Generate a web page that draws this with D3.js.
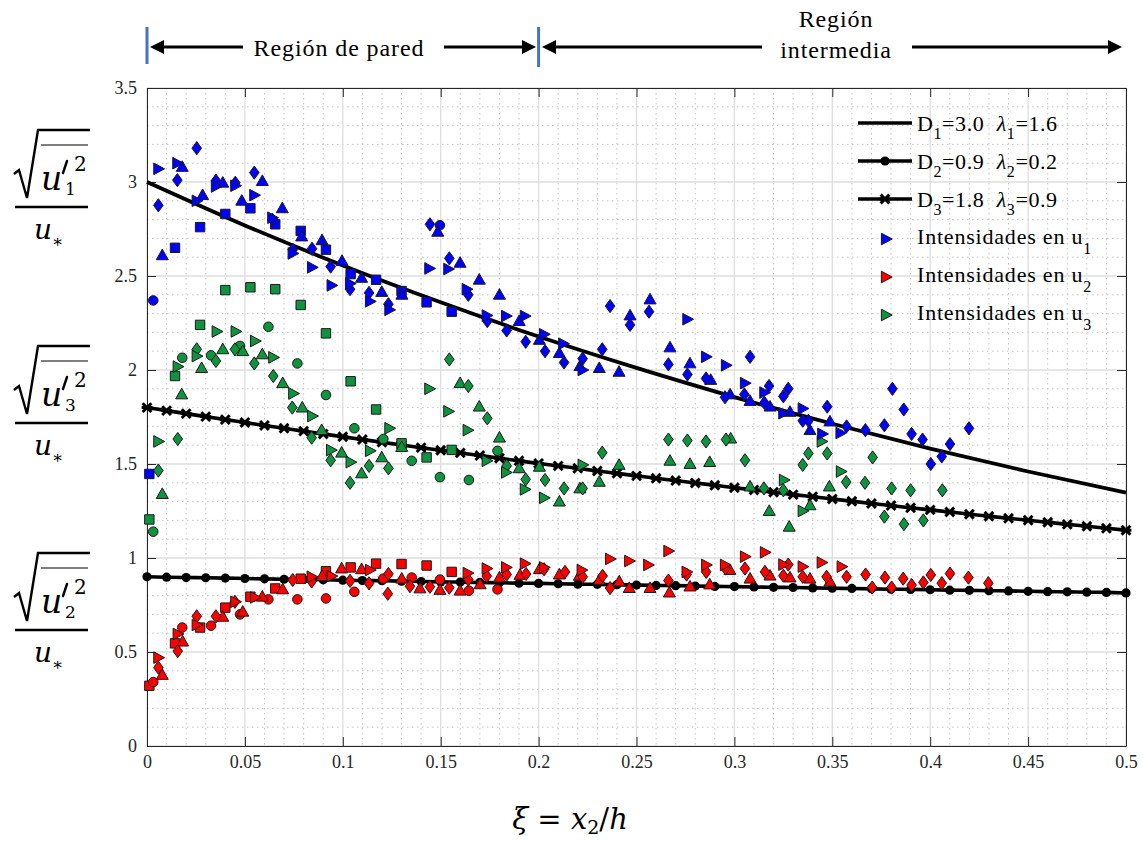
<!DOCTYPE html>
<html><head><meta charset="utf-8">
<script src="https://cdn.jsdelivr.net/npm/d3@7"></script>
<style>body{margin:0;background:#fff}svg{display:block}</style>
</head><body><svg id="c" width="1143" height="841"></svg>
<script>
// ---------------- DATA ----------------
const xTicks = [0,0.05,0.1,0.15,0.2,0.25,0.3,0.35,0.4,0.45,0.5];
const xTickLabels = ["0","0.05","0.1","0.15","0.2","0.25","0.3","0.35","0.4","0.45","0.5"];
const yTicks = [0,0.5,1,1.5,2,2.5,3,3.5];
const yTickLabels = ["0","0.5","1","1.5","2","2.5","3","3.5"];

// fitted curves
const fitX1 = [0,0.05,0.1,0.15,0.2,0.25,0.3,0.35,0.4,0.45,0.5];
const fitD1 = [3.000,2.769,2.556,2.360,2.178,2.011,1.856,1.714,1.582,1.460,1.348];
const fitX = [0,0.01,0.02,0.03,0.04,0.05,0.06,0.07,0.08,0.09,0.1,0.11,0.12,0.13,0.14,0.15,0.16,0.17,0.18,0.19,0.2,0.21,0.22,0.23,0.24,0.25,0.26,0.27,0.28,0.29,0.3,0.31,0.32,0.33,0.34,0.35,0.36,0.37,0.38,0.39,0.4,0.41,0.42,0.43,0.44,0.45,0.46,0.47,0.48,0.49,0.5];
const fitD2 = [0.900,0.898,0.896,0.895,0.893,0.891,0.889,0.887,0.886,0.884,0.882,0.880,0.879,0.877,0.875,0.873,0.872,0.870,0.868,0.866,0.865,0.863,0.861,0.860,0.858,0.856,0.854,0.853,0.851,0.849,0.848,0.846,0.844,0.843,0.841,0.839,0.838,0.836,0.834,0.833,0.831,0.829,0.828,0.826,0.825,0.823,0.821,0.820,0.818,0.817,0.814];
const fitD3 = [1.800,1.784,1.768,1.752,1.736,1.721,1.705,1.690,1.675,1.660,1.645,1.630,1.616,1.601,1.587,1.573,1.559,1.545,1.531,1.517,1.503,1.490,1.477,1.463,1.450,1.437,1.424,1.412,1.399,1.387,1.374,1.362,1.350,1.337,1.326,1.314,1.302,1.290,1.279,1.267,1.256,1.245,1.233,1.222,1.211,1.201,1.190,1.179,1.169,1.158,1.148];

// squares
const u1_sq = [[0.0012,1.447],[0.0143,2.65],[0.0271,2.76],[0.040,2.83],[0.0528,2.86],[0.0655,2.775],[0.0785,2.74],[0.0914,2.64],[0.104,2.51],[0.117,2.48],[0.130,2.42],[0.1428,2.36],[0.1556,2.31]];
const u2_sq = [[0.0012,0.32],[0.0143,0.546],[0.0271,0.63],[0.040,0.736],[0.0528,0.794],[0.0655,0.838],[0.0785,0.89],[0.0914,0.93],[0.104,0.95],[0.117,0.97],[0.130,0.968],[0.1428,0.96],[0.1556,0.926]];
const u3_sq = [[0.0012,1.205],[0.0143,1.968],[0.0271,2.24],[0.040,2.425],[0.0528,2.44],[0.0655,2.43],[0.0785,2.346],[0.0914,2.195],[0.104,1.94],[0.117,1.79],[0.130,1.61],[0.1428,1.535],[0.1556,1.575]];
// circles
const u1_ci = [[0.0032,2.37],[0.1496,2.77]];
const u2_ci = [[0.0032,0.34],[0.018,0.63],[0.0327,0.64],[0.0475,0.70],[0.062,0.78],[0.0768,0.78],[0.0914,0.785],[0.1059,0.82],[0.1207,0.89],[0.1352,0.896],[0.1496,0.885],[0.1644,0.826],[0.179,0.833]];
const u3_ci = [[0.0032,1.14],[0.018,2.065],[0.0327,2.078],[0.0475,2.128],[0.062,2.23],[0.0768,2.035],[0.0914,1.867],[0.1059,1.69],[0.1207,1.633],[0.1352,1.517],[0.1496,1.43],[0.1644,1.415],[0.179,1.57]];
// up triangles
const u1_tu = [[0.0078,2.61],[0.018,3.08],[0.0284,2.93],[0.0387,2.996],[0.0484,2.90],[0.0589,3.005],[0.0691,2.86],[0.079,2.71],[0.0894,2.69],[0.0996,2.58],[0.1096,2.49],[0.1199,2.415],[0.1302,2.40],[0.1485,2.735],[0.1599,2.57],[0.1697,2.48],[0.18,2.40],[0.1901,2.26],[0.2004,2.16],[0.2106,2.09],[0.2211,2.02],[0.231,2.01],[0.2411,1.99],[0.2467,2.29],[0.2569,2.375],[0.2671,2.12],[0.2773,2.035],[0.2879,1.947],[0.2978,1.87],[0.308,1.835],[0.3182,1.805],[0.3284,1.777],[0.3386,1.68],[0.3488,1.726]];
const u2_tu = [[0.0078,0.378],[0.0182,0.555],[0.0387,0.687],[0.0489,0.714],[0.0589,0.794],[0.0693,0.833],[0.0894,0.904],[0.0994,0.944],[0.1096,0.94],[0.1301,0.89],[0.1394,0.838],[0.1496,0.83],[0.1599,0.826],[0.1701,0.86],[0.18,0.896],[0.1905,0.91],[0.2004,0.94],[0.2106,0.912],[0.2208,0.905],[0.231,0.883],[0.2412,0.875],[0.2463,0.84],[0.2569,0.84],[0.2668,0.816],[0.2773,0.848],[0.2874,0.859],[0.2977,0.936],[0.308,0.89],[0.3182,0.906],[0.3284,0.896],[0.3386,0.89],[0.3488,0.874]];
const u3_tu = [[0.0078,1.34],[0.0177,1.87],[0.0279,2.01],[0.0387,2.11],[0.0489,2.10],[0.0589,2.083],[0.0693,1.93],[0.0793,1.80],[0.0892,1.68],[0.0994,1.56],[0.1096,1.45],[0.1199,1.535],[0.1301,1.59],[0.1599,1.93],[0.1697,1.805],[0.18,1.64],[0.1901,1.477],[0.2004,1.485],[0.2106,1.30],[0.2211,1.37],[0.231,1.405],[0.2411,1.495],[0.2671,1.517],[0.2773,1.50],[0.2874,1.51],[0.2981,1.635],[0.308,1.38],[0.3178,1.25],[0.328,1.166],[0.3386,1.28],[0.3485,1.38]];
// diamonds
const u1_di = [[0.0058,2.876],[0.0155,3.01],[0.0254,3.18],[0.0352,3.007],[0.0451,2.996],[0.0548,3.05],[0.064,2.80],[0.0744,2.64],[0.0843,2.645],[0.0938,2.55],[0.1037,2.43],[0.1134,2.41],[0.1233,2.35],[0.1445,2.775],[0.1544,2.594],[0.1641,2.40],[0.1738,2.26],[0.1837,2.21],[0.1934,2.15],[0.2033,2.10],[0.213,2.04],[0.2225,2.06],[0.2325,2.11],[0.2365,2.34],[0.2467,2.24],[0.2564,2.31],[0.2663,2.03],[0.276,1.976],[0.2855,1.955],[0.2952,1.855],[0.3051,1.87],[0.308,2.07],[0.3153,1.826],[0.3177,1.915],[0.325,1.86],[0.3275,1.90],[0.3349,1.73],[0.3378,1.73],[0.3474,1.805],[0.3573,1.70],[0.3669,1.68],[0.3766,1.706],[0.3807,1.90],[0.3865,1.79],[0.3905,1.66],[0.3961,1.63],[0.4003,1.50],[0.4059,1.54],[0.4101,1.606],[0.4198,1.69]];
const u2_di = [[0.0058,0.417],[0.0157,0.505],[0.0254,0.69],[0.0352,0.69],[0.0449,0.767],[0.0744,0.883],[0.0841,0.875],[0.1037,0.878],[0.1134,0.865],[0.1233,0.915],[0.123,0.81],[0.1343,0.85],[0.1445,0.847],[0.1544,0.842],[0.1641,0.885],[0.1735,0.904],[0.1837,0.912],[0.1936,0.915],[0.2028,0.94],[0.2135,0.926],[0.2225,0.90],[0.2327,0.905],[0.2365,0.84],[0.2663,0.88],[0.2756,0.912],[0.2856,0.926],[0.2955,0.944],[0.3054,0.944],[0.3156,0.926],[0.325,0.906],[0.3275,0.965],[0.3349,0.90],[0.3471,0.90],[0.3573,0.90],[0.367,0.912],[0.3704,0.843],[0.3769,0.896],[0.3803,0.843],[0.3862,0.89],[0.3905,0.856],[0.3965,0.87],[0.4003,0.91],[0.4059,0.866],[0.4101,0.917],[0.4195,0.896],[0.4297,0.866]];
const u3_di = [[0.0058,1.465],[0.0157,1.633],[0.0254,2.11],[0.0352,2.048],[0.0449,2.11],[0.0548,2.035],[0.0645,1.968],[0.0742,1.80],[0.0841,1.64],[0.0938,1.52],[0.1037,1.40],[0.1134,1.49],[0.1233,1.477],[0.1544,2.056],[0.1641,1.915],[0.1738,1.743],[0.1837,1.49],[0.1934,1.418],[0.2033,1.415],[0.213,1.37],[0.2225,1.37],[0.2325,1.56],[0.2663,1.63],[0.276,1.625],[0.2855,1.62],[0.2957,1.63],[0.3054,1.52],[0.3151,1.37],[0.325,1.36],[0.3349,1.495],[0.3378,1.556],[0.3474,1.556],[0.3571,1.404],[0.3667,1.40],[0.3706,1.535],[0.3766,1.22],[0.3803,1.37],[0.3866,1.18],[0.39,1.36],[0.3965,1.20],[0.4062,1.36]];
// right-pointing triangles
const u1_tr = [[0.0058,3.07],[0.0155,3.10],[0.0254,2.90],[0.0352,2.976],[0.0451,2.98],[0.0548,2.93],[0.064,2.81],[0.0744,2.62],[0.0843,2.546],[0.0943,2.45],[0.1037,2.46],[0.1139,2.365],[0.1238,2.32],[0.1442,2.54],[0.1539,2.537],[0.1633,2.43],[0.1735,2.29],[0.1834,2.287],[0.193,2.287],[0.2028,2.19],[0.2126,2.14],[0.2225,2.00],[0.276,2.27],[0.2855,2.07],[0.2957,2.025],[0.3054,1.93],[0.3153,1.88],[0.325,1.77],[0.3349,1.795],[0.3449,1.66],[0.3542,1.665]];
const u2_tr = [[0.0058,0.47],[0.0157,0.596],[0.0254,0.644],[0.0451,0.767],[0.0552,0.79],[0.0841,0.90],[0.0943,0.904],[0.1139,0.936],[0.1638,0.92],[0.1735,0.944],[0.1834,0.95],[0.193,0.97],[0.2028,0.95],[0.222,0.936],[0.2365,0.995],[0.2463,0.984],[0.256,0.963],[0.2663,1.037],[0.2756,0.926],[0.2856,0.963],[0.2952,0.963],[0.3054,1.007],[0.3156,1.03],[0.325,0.965],[0.3349,0.954],[0.3446,0.976],[0.3548,0.954]];
const u3_tr = [[0.0058,1.62],[0.0157,2.018],[0.0254,2.074],[0.0356,2.205],[0.0453,2.205],[0.0552,2.154],[0.0645,2.067],[0.0747,1.875],[0.0844,1.755],[0.094,1.574],[0.104,1.51],[0.1139,1.57],[0.1238,1.69],[0.1442,1.90],[0.1539,1.78],[0.1638,1.68],[0.1735,1.517],[0.1834,1.455],[0.193,1.365],[0.2028,1.32],[0.2225,1.495],[0.3253,1.415],[0.3349,1.25],[0.3446,1.62],[0.3544,1.46]];

const legendLabels = ["Intensidades en u","Intensidades en u","Intensidades en u"];
const legendSubs = ["1","2","3"];
// ---------------- DRAW ----------------
const C1 = "#0000ff", C2 = "#ff0000", C3 = "#10933f";
const svg = d3.select("#c");
const x = d3.scaleLinear().domain([0,0.5]).range([147,1126]);
const y = d3.scaleLinear().domain([0,3.5]).range([746,88]);
const serif = "'Liberation Serif','Times New Roman',serif";

// minor grid
const minorX = d3.range(0,0.5001,0.01).filter(v=>Math.abs(v*20-Math.round(v*20))>1e-6);
const minorY = d3.range(0,3.5001,0.1).filter(v=>Math.abs(v*2-Math.round(v*2))>1e-6);
const grid = svg.append("g");
grid.selectAll(".mx").data(minorX).join("line").attr("x1",d=>x(d)).attr("x2",d=>x(d)).attr("y1",88).attr("y2",746)
  .attr("stroke","#c4c4c4").attr("stroke-width",1).attr("stroke-dasharray","1.5,3.5");
grid.selectAll(".my").data(minorY).join("line").attr("x1",147).attr("x2",1126).attr("y1",d=>y(d)).attr("y2",d=>y(d))
  .attr("stroke","#c4c4c4").attr("stroke-width",1).attr("stroke-dasharray","1.5,3.5");
grid.selectAll(".Mx").data(xTicks).join("line").attr("x1",d=>x(d)).attr("x2",d=>x(d)).attr("y1",88).attr("y2",746)
  .attr("stroke","#dedede").attr("stroke-width",1.3);
grid.selectAll(".My").data(yTicks).join("line").attr("x1",147).attr("x2",1126).attr("y1",d=>y(d)).attr("y2",d=>y(d))
  .attr("stroke","#dedede").attr("stroke-width",1.3);

// axes
function styleAxis(g){ g.select(".domain").attr("stroke","#262626"); g.selectAll(".tick line").attr("stroke","#262626");
  g.selectAll("text").attr("font-family",serif).attr("font-size",18).attr("fill","#262626"); }
svg.append("g").attr("transform","translate(0,746)")
  .call(d3.axisBottom(x).tickValues(xTicks).tickFormat((d,i)=>xTickLabels[i]).tickSize(-9).tickPadding(9).tickSizeOuter(0)).call(styleAxis);
svg.append("g").attr("transform","translate(147,0)")
  .call(d3.axisLeft(y).tickValues(yTicks).tickFormat((d,i)=>yTickLabels[i]).tickSize(-9).tickPadding(10).tickSizeOuter(0)).call(styleAxis);
svg.append("g").attr("transform","translate(0,88)")
  .call(d3.axisTop(x).tickValues(xTicks).tickFormat("").tickSize(-9).tickSizeOuter(0)).call(styleAxis);
svg.append("g").attr("transform","translate(1126,0)")
  .call(d3.axisRight(y).tickValues(yTicks).tickFormat("").tickSize(-9).tickSizeOuter(0)).call(styleAxis);

// fitted curves
const lineG = svg.append("g");
const ln = d3.line().x(d=>x(d[0])).y(d=>y(d[1])).curve(d3.curveMonotoneX);
const d1 = fitX1.map((v,i)=>[v,fitD1[i]]);
const d2 = fitX.map((v,i)=>[v,fitD2[i]]);
const d3c = fitX.map((v,i)=>[v,fitD3[i]]);
lineG.append("path").attr("d",ln(d1)).attr("fill","none").attr("stroke","#000").attr("stroke-width",3.8);
lineG.append("path").attr("d",ln(d2)).attr("fill","none").attr("stroke","#000").attr("stroke-width",3.6);
lineG.append("path").attr("d",ln(d3c)).attr("fill","none").attr("stroke","#000").attr("stroke-width",3.6);
lineG.selectAll(".cm").data(d2).join("circle").attr("cx",d=>x(d[0])).attr("cy",d=>y(d[1])).attr("r",4.6).attr("fill","#000");
function xmark(g,cx,cy){ const s=4.4;
  g.append("path").attr("d",`M${cx-s},${cy-s}L${cx+s},${cy+s}M${cx-s},${cy+s}L${cx+s},${cy-s}M${cx-s-1},${cy}L${cx+s+1},${cy}`)
   .attr("stroke","#000").attr("stroke-width",3).attr("fill","none"); }
d3c.forEach(d=>xmark(lineG,x(d[0]),y(d[1])));

// marker shapes
const shapes = {
  sq: "M-4.7,-4.7H4.7V4.7H-4.7Z",
  ci: d3.symbol(d3.symbolCircle, 72)(),
  tu: "M0,-6.2L6,4.4L-6,4.4Z",
  di: "M0,-6.6L4.8,0L0,6.6L-4.8,0Z",
  tr: "M-4.6,-5.8L6.2,0L-4.6,5.8Z"
};
const mk = svg.append("g");
function plot(data, shape, color){
  mk.append("g").selectAll("path").data(data).join("path")
    .attr("d",shapes[shape]).attr("transform",d=>`translate(${x(d[0])},${y(d[1])})`)
    .attr("fill",color).attr("stroke","#1a1a1a").attr("stroke-width",1);
}
plot(u3_sq,"sq",C3); plot(u2_sq,"sq",C2); plot(u1_sq,"sq",C1);
plot(u3_ci,"ci",C3); plot(u2_ci,"ci",C2); plot(u1_ci,"ci",C1);
plot(u3_tu,"tu",C3); plot(u2_tu,"tu",C2); plot(u1_tu,"tu",C1);
plot(u3_di,"di",C3); plot(u2_di,"di",C2); plot(u1_di,"di",C1);
plot(u3_tr,"tr",C3); plot(u2_tr,"tr",C2); plot(u1_tr,"tr",C1);

// legend
const lg = svg.append("g");
const legY = [123,161,199];
const legP = [["1","3.0","1.6"],["2","0.9","0.2"],["3","1.8","0.9"]];
legY.forEach((ly,i)=>{
  lg.append("line").attr("x1",858).attr("x2",912).attr("y1",ly).attr("y2",ly).attr("stroke","#000").attr("stroke-width",3.6);
  if(i===1) lg.append("circle").attr("cx",885).attr("cy",ly).attr("r",4.6).attr("fill","#000");
  if(i===2) xmark(lg,885,ly);
  const t = lg.append("text").attr("x",917).attr("y",ly+8).attr("font-family",serif).attr("font-size",22).attr("letter-spacing",0.6).attr("fill","#000");
  t.append("tspan").text("D");
  t.append("tspan").attr("dy",8).attr("font-size",16).text(legP[i][0]);
  t.append("tspan").attr("dy",-8).text("="+legP[i][1]+"\u00a0 ");
  t.append("tspan").attr("font-style","italic").text("λ");
  t.append("tspan").attr("dy",8).attr("font-size",16).text(legP[i][0]);
  t.append("tspan").attr("dy",-8).text("="+legP[i][2]);
});
const legY2 = [239,277,315];
[C1,C2,C3].forEach((c,i)=>{
  lg.append("path").attr("d",shapes.tr).attr("transform",`translate(886,${legY2[i]})`).attr("fill",c).attr("stroke","#1a1a1a").attr("stroke-width",1);
  const t = lg.append("text").attr("x",917).attr("y",legY2[i]+5).attr("font-family",serif).attr("font-size",22).attr("letter-spacing",0.8).attr("fill","#000");
  t.append("tspan").text(legendLabels[i]);
  t.append("tspan").attr("dy",10).attr("font-size",16).text(legendSubs[i]);
});

// top annotation
const ann = svg.append("g");
function arrow(x1,x2,yy){ // arrow head at x2
  ann.append("line").attr("x1",x1).attr("x2",x2 - Math.sign(x2-x1)*10).attr("y1",yy).attr("y2",yy).attr("stroke","#000").attr("stroke-width",3);
  const s = Math.sign(x2-x1);
  ann.append("path").attr("d",`M${x2},${yy}L${x2-s*14},${yy-7}L${x2-s*14},${yy+7}Z`).attr("fill","#000");
}
ann.append("line").attr("x1",x(0)).attr("x2",x(0)).attr("y1",27).attr("y2",64).attr("stroke","#4472c4").attr("stroke-width",3);
ann.append("line").attr("x1",x(0.2)).attr("x2",x(0.2)).attr("y1",27).attr("y2",67).attr("stroke","#4472c4").attr("stroke-width",3);
arrow(243,150,47); arrow(444,536,47); arrow(762,542,47); arrow(912,1122,47);
ann.append("text").attr("x",339).attr("y",56).attr("text-anchor","middle").attr("font-family",serif).attr("font-size",24).attr("letter-spacing",0.9).text("Región de pared");
ann.append("text").attr("x",836).attr("y",27).attr("text-anchor","middle").attr("font-family",serif).attr("font-size",24).attr("letter-spacing",0.9).text("Región");
ann.append("text").attr("x",836).attr("y",58).attr("text-anchor","middle").attr("font-family",serif).attr("font-size",24).attr("letter-spacing",0.9).text("intermedia");

// y-axis fraction labels
const mathF = "'DejaVu Serif',serif";
function frac(barY, sub){
  const g = svg.append("g");
  g.append("path").attr("d",`M14,${barY-33}L19,${barY-37}L27,${barY-9}L38,${barY-77}L90,${barY-77}`)
    .attr("fill","none").attr("stroke","#000").attr("stroke-width",2.4).attr("stroke-linejoin","miter");
  g.append("line").attr("x1",41).attr("x2",88).attr("y1",barY-62).attr("y2",barY-62).attr("stroke","#000").attr("stroke-width",1.2);
  g.append("text").attr("x",41).attr("y",barY-17).attr("font-family",mathF).attr("font-style","italic").attr("font-size",33).text("u");
  g.append("path").attr("d",`M${67},${barY-46}L${63},${barY-34}`).attr("stroke","#000").attr("stroke-width",2.4).attr("stroke-linecap","round");
  g.append("text").attr("x",65).attr("y",barY-12).attr("font-family",mathF).attr("font-size",17).text(sub);
  g.append("text").attr("x",74).attr("y",barY-36).attr("font-family",mathF).attr("font-size",20).text("2");
  g.append("line").attr("x1",15).attr("x2",88).attr("y1",barY).attr("y2",barY).attr("stroke","#000").attr("stroke-width",2.6);
  g.append("text").attr("x",34).attr("y",barY+32).attr("font-family",mathF).attr("font-style","italic").attr("font-size",28).text("u");
  g.append("text").attr("x",52).attr("y",barY+40).attr("font-family",mathF).attr("font-size",17).text("∗");
}
frac(207,"1"); frac(423,"3"); frac(630,"2");

// x-axis label
const xl = svg.append("text").attr("x",570).attr("y",829).attr("text-anchor","middle").attr("font-family",mathF).attr("font-size",29);
xl.append("tspan").attr("font-style","italic").text("ξ");
xl.append("tspan").text(" = ");
xl.append("tspan").attr("font-style","italic").text("x");
xl.append("tspan").attr("dy",5).attr("font-size",19).text("2");
xl.append("tspan").attr("dy",-5).text("/");
xl.append("tspan").attr("font-style","italic").text("h");
</script></body></html>
